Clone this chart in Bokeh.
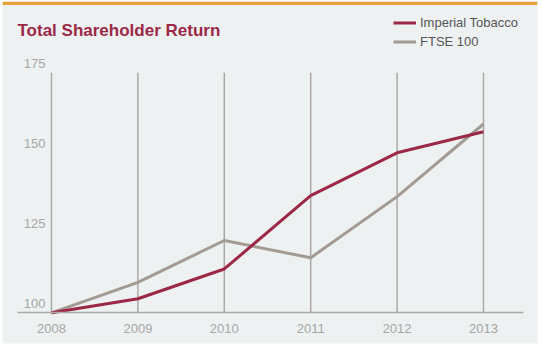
from bokeh.plotting import figure
from bokeh.models import (Range1d, FixedTicker, Legend, LegendItem, Label, BoxAnnotation)
from bokeh.embed import file_html
from bokeh.resources import INLINE
from bokeh.core.properties import value

# ---- data ----
years = [2008, 2009, 2010, 2011, 2012, 2013]
imperial = [100, 104.4, 113.7, 136.6, 150.0, 156.6]
ftse = [100, 109.5, 122.6, 117.2, 136.3, 159.0]
y_ticks = [100, 125, 150, 175]
y_labels = ["100", "125", "150", "175"]
x_labels = ["2008", "2009", "2010", "2011", "2012", "2013"]
title_text = "Total Shareholder Return"
series_names = ["Imperial Tobacco", "FTSE 100"]

# ---- style ----
FONT = "Liberation Sans"
RED = "#9c2847"
GREY_LINE = "#a39b93"
GRID = "#aca8a4"
BG = "#eef1f2"
LABEL = "#a6a6a6"

p = figure(width=542, height=353, output_backend="svg", toolbar_location=None,
           x_range=Range1d(2007.4329, 2013.625), y_range=Range1d(90.41, 197.28),
           y_axis_location=None,
           min_border_left=2, min_border_right=5, min_border_top=1, min_border_bottom=10)
p.border_fill_color = "white"
p.background_fill_color = BG
p.outline_line_color = None
p.grid.visible = False

# orange top rule
p.add_layout(BoxAnnotation(left=0, right=535, bottom=338.5, top=342,
                           left_units="screen", right_units="screen",
                           bottom_units="screen", top_units="screen",
                           fill_color="#e9a33b", fill_alpha=1, line_color=None))

# x axis drawn at the 100 baseline
ax = p.xaxis[0]
ax.fixed_location = y_ticks[0]
ax.bounds = (2007.6065, 2013.463)
ax.ticker = FixedTicker(ticks=years)
ax.major_label_overrides = {y: s for y, s in zip(years, x_labels)}
ax.axis_line_color = GRID
ax.axis_line_width = 1.5
ax.major_tick_line_color = None
ax.minor_tick_line_color = None
ax.major_label_standoff = 5
ax.major_label_text_font = FONT
ax.major_label_text_font_size = "13px"
ax.major_label_text_color = LABEL

# vertical grid lines from 100 to 175
p.segment(x0=years, y0=y_ticks[0], x1=years, y1=y_ticks[-1],
          line_color=GRID, line_width=1.5)

# y labels
p.text(x=years[0], y=y_ticks, text=y_labels, x_offset=-6, y_offset=-9.5,
       text_align="right", text_baseline="middle", text_font=value(FONT),
       text_font_size="13px", text_color=LABEL)

# lines
r2 = p.line(years, ftse, line_color=GREY_LINE, line_width=3)
r1 = p.line(years, imperial, line_color=RED, line_width=3)

legend = Legend(items=[LegendItem(label=series_names[0], renderers=[r1]),
                       LegendItem(label=series_names[1], renderers=[r2])],
                location=(391, 292.5), padding=0, margin=0, spacing=0,
                label_height=19, glyph_height=19, glyph_width=23, label_standoff=4,
                label_text_font=FONT, label_text_font_size="13px", label_text_color="#555555",
                background_fill_alpha=0, border_line_color=None)
p.add_layout(legend)

p.add_layout(Label(x=15, y=313, x_units="screen", y_units="screen", text=title_text,
                   text_font=FONT, text_font_size="17px", text_font_style="bold",
                   text_color=RED, text_baseline="alphabetic"))

open("out.html", "w").write(file_html(p, INLINE))
